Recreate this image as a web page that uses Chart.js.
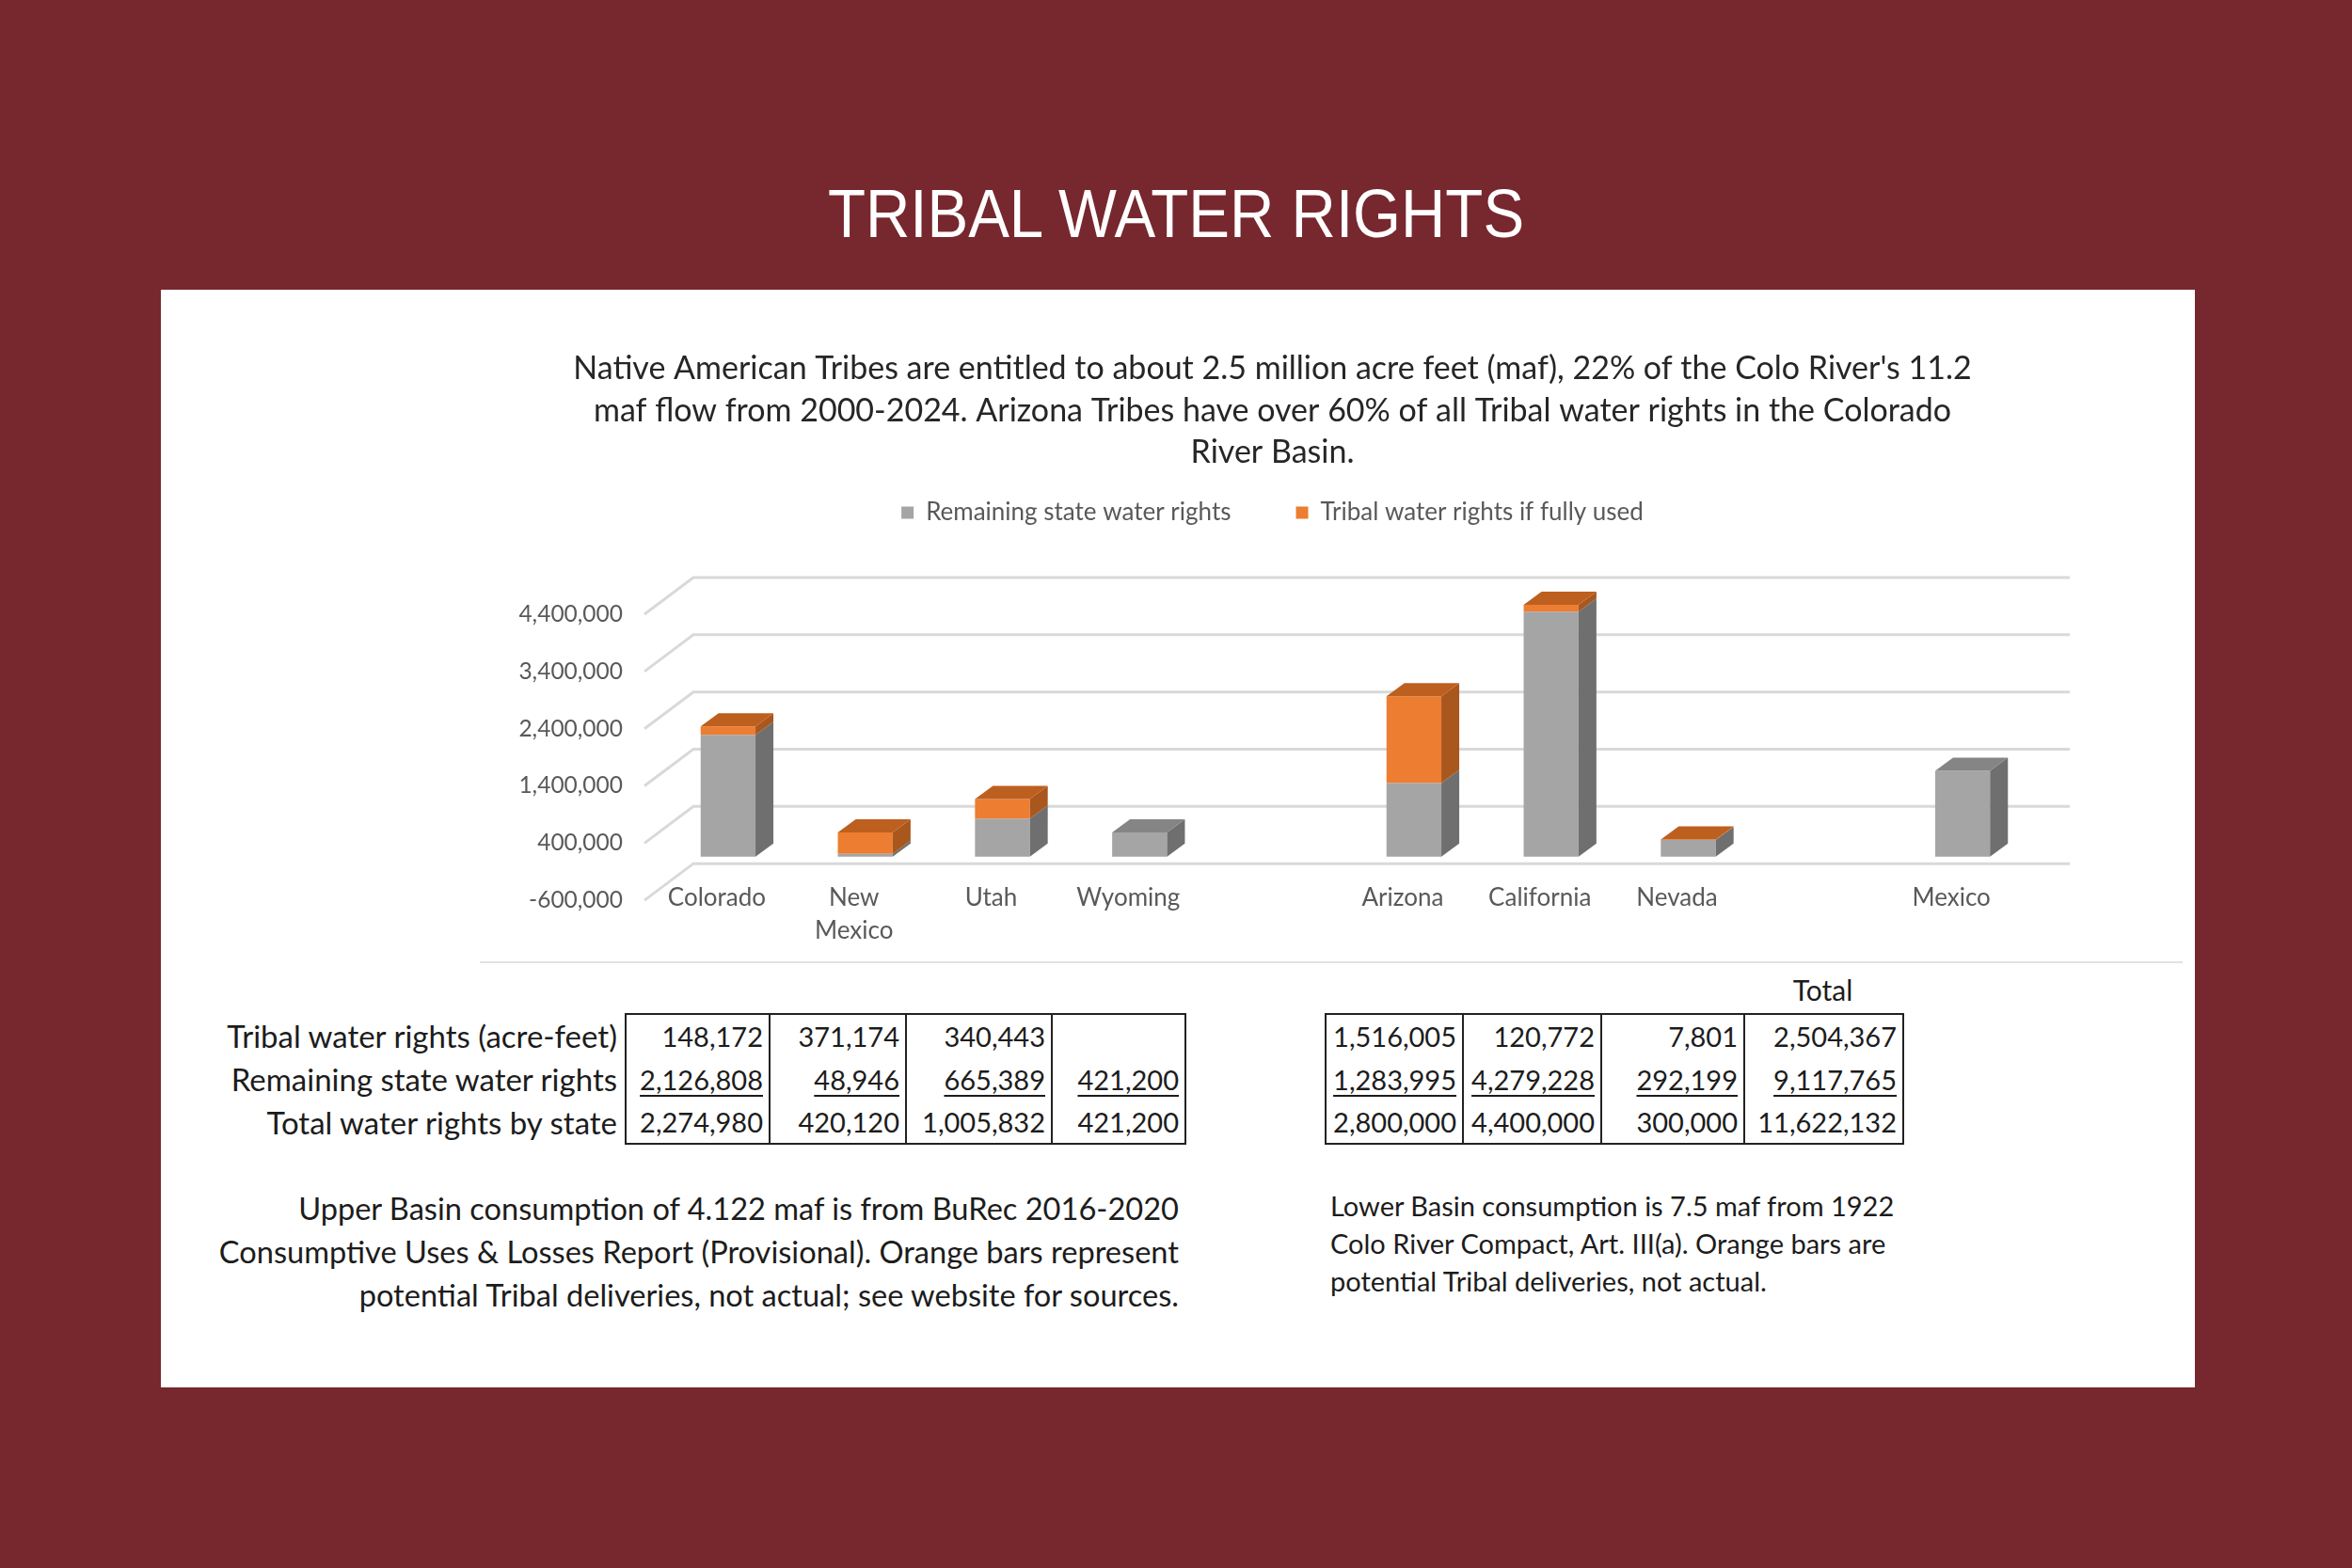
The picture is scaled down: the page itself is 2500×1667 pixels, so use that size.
<!DOCTYPE html>
<html>
<head>
<meta charset="utf-8">
<script src="https://cdn.jsdelivr.net/npm/chart.js@4"></script>
<style>
  body { margin: 0; width: 2500px; height: 1667px; background: #77272e; position: relative; overflow: hidden; font-family: Lato, "Open Sans", sans-serif; }
  #heading { position: absolute; left: 0; top: 191px; width: 2500px; text-align: center; color: #fff;
             font-family: "Liberation Sans", Arial, sans-serif; font-size: 72px; line-height: 72px; transform: scaleX(0.91); }
  #panel { position: absolute; left: 171px; top: 308px; width: 2162px; height: 1167px; background: #fff; }
  #chartBox { position: absolute; left: 546px; top: 360px; width: 1680px; height: 658px; }
  #sep { position: absolute; left: 510px; top: 1022px; width: 1810px; height: 2px; background: #e2e2e2; }
  table { position: absolute; border-collapse: collapse; font-size: 29px; color: #1c1c1c; }
  td { height: 46px; padding: 0 6px 0 0; text-align: right; white-space: nowrap; box-sizing: border-box; }
  td.num { border-left: 2px solid #222; border-right: 2px solid #222; }
  tr:first-child td.num { border-top: 2px solid #222; }
  tr:last-child td.num { border-bottom: 2px solid #222; }
  td.lab { padding-right: 8px; font-size: 33px; }
  tr.under td.num span { text-decoration: underline; text-decoration-thickness: 2px; text-underline-offset: 5px; }
  #totalHead { position: absolute; left: 1853px; width: 169px; top: 1034px; text-align: center; font-size: 30px; color: #1c1c1c; }
  #noteLeft { position: absolute; left: 150px; width: 1103px; top: 1262px; text-align: right; font-size: 32.6px; line-height: 46px; color: #1c1c1c; }
  #noteRight { position: absolute; left: 1414px; width: 800px; top: 1262px; font-size: 29px; line-height: 40px; color: #1c1c1c; }
</style>
</head>
<body>
<div id="heading">TRIBAL WATER RIGHTS</div>
<div id="panel"></div>
<div id="chartBox"><canvas id="myChart" width="1680" height="658"></canvas></div>
<div id="sep"></div>
<table id="upperTable"></table>
<div id="totalHead">Total</div>
<table id="lowerTable"></table>
<div id="noteLeft">Upper Basin consumption of 4.122 maf is from BuRec 2016-2020<br>Consumptive Uses &amp; Losses Report (Provisional). Orange bars represent<br>potential Tribal deliveries, not actual; see website for sources.</div>
<div id="noteRight">Lower Basin consumption is 7.5 maf from 1922<br>Colo River Compact, Art. III(a). Orange bars are<br>potential Tribal deliveries, not actual.</div>

<script>
// chart data (blank slots keep the basin groups apart)
const states = ['Colorado', ['New', 'Mexico'], 'Utah', 'Wyoming', '', 'Arizona', 'California', 'Nevada', '', 'Mexico']
const remainingRights = [2126808, 48946, 665389, 421200, null, 1283995, 4279228, 292199, null, 1500000]
const tribalRights = [148172, 371174, 340443, 0, null, 1516005, 120772, 7801, null, 0]
const yTicks = [-600000, 400000, 1400000, 2400000, 3400000, 4400000]
const yMin = -400000
const yMax = 4400000

// table data
const rowLabels = ['Tribal water rights (acre-feet)', 'Remaining state water rights', 'Total water rights by state']
const upperTribal = [148172, 371174, 340443, null]
const upperRemaining = [2126808, 48946, 665389, 421200]
const upperTotal = [2274980, 420120, 1005832, 421200]
const lowerTribal = [1516005, 120772, 7801, 2504367]
const lowerRemaining = [1283995, 4279228, 292199, 9117765]
const lowerTotal = [2800000, 4400000, 300000, 11622132]

const fmt = v => v == null ? '' : v.toLocaleString('en-US')

function buildTable(el, rows, widths, labels) {
    let html = ''
    rows.forEach((row, r) => {
        html += `<tr${r === 1 ? ' class="under"' : ''}>`
        if (labels) html += `<td class="lab" style="width:500px">${labels[r]}</td>`
        row.forEach((v, c) => {
            html += `<td class="num" style="width:${widths[c]}px"><span>${fmt(v)}</span></td>`
        })
        html += '</tr>'
    })
    el.innerHTML = html
}

const upperEl = document.getElementById('upperTable')
upperEl.style.left = '165px'
upperEl.style.top = '1077px'
buildTable(upperEl, [upperTribal, upperRemaining, upperTotal], [153, 145, 155, 142], rowLabels)

const lowerEl = document.getElementById('lowerTable')
lowerEl.style.left = '1408px'
lowerEl.style.top = '1077px'
buildTable(lowerEl, [lowerTribal, lowerRemaining, lowerTotal], [146, 147, 152, 169], null)

// 3D look: back wall grid, then side and top faces of every bar
const DX = 19, DY = 14

const wall3d = {
    id: 'wall3d',
    beforeInit(chart) {
        const fit = chart.legend.fit
        chart.legend.fit = function () {
            fit.call(this)
            this.height += 75
        }
    },
    beforeDatasetsDraw(chart) {
        const { ctx, chartArea: a, scales: { y } } = chart
        ctx.save()
        ctx.strokeStyle = '#d9d9d9'
        ctx.lineWidth = 3
        y.ticks.forEach(t => {
            const py = y.getPixelForValue(t.value)
            ctx.beginPath()
            ctx.moveTo(a.left - 16, py + 10)
            ctx.lineTo(a.left + 36, py - 29)
            ctx.lineTo(a.right + 41, py - 29)
            ctx.stroke()
        })
        ctx.restore()
    },
    afterDatasetsDraw(chart) {
        const ctx = chart.ctx
        const sets = chart.data.datasets
        const topSet = chart.data.labels.map((_, i) => {
            let k = -1
            sets.forEach((d, j) => { if (d.data[i] > 0) k = j })
            return k
        })
        const poly = pts => {
            ctx.beginPath()
            pts.forEach((p, n) => n ? ctx.lineTo(p[0], p[1]) : ctx.moveTo(p[0], p[1]))
            ctx.closePath()
            ctx.fill()
        }
        ctx.save()
        sets.forEach((ds, j) => {
            chart.getDatasetMeta(j).data.forEach((bar, i) => {
                if (!(ds.data[i] > 0)) return
                const { x, y, base, width } = bar.getProps(['x', 'y', 'base', 'width'], true)
                const l = x - width / 2, r = x + width / 2
                ctx.fillStyle = ds.sideColor
                poly([[r, y], [r + DX, y - DY], [r + DX, base - DY], [r, base]])
                if (topSet[i] === j) {
                    ctx.fillStyle = ds.topColor
                    poly([[l, y], [l + DX, y - DY], [r + DX, y - DY], [r, y]])
                }
            })
        })
        ctx.restore()
    }
}

const ctx = document.getElementById('myChart')

const myChart = new Chart(ctx, {
    type: 'bar',
    data: {
        labels: states,
        datasets: [{
            label: 'Remaining state water rights',
            data: remainingRights,
            backgroundColor: '#a5a5a5',
            sideColor: '#6f6f6f',
            topColor: '#858585',
            borderWidth: 0
        }, {
            label: 'Tribal water rights if fully used',
            data: tribalRights,
            backgroundColor: '#ed7d31',
            sideColor: '#a9571d',
            topColor: '#bd5f1f',
            borderWidth: 0
        }]
    },
    options: {
        responsive: false,
        animation: false,
        events: [],
        layout: { padding: { left: 0, right: 67, top: 0, bottom: 0 } },
        datasets: { bar: { barPercentage: 0.4, categoryPercentage: 1 } },
        plugins: {
            title: {
                display: true,
                text: [
                    "Native American Tribes are entitled to about 2.5 million acre feet (maf), 22% of the Colo River's 11.2",
                    'maf flow from 2000-2024. Arizona Tribes have over 60% of all Tribal water rights in the Colorado',
                    'River Basin.'
                ],
                color: '#262626',
                font: { family: 'Lato', size: 34, weight: 'normal', lineHeight: 1.309 },
                padding: { top: 10, bottom: -40.5 }
            },
            legend: {
                labels: {
                    boxWidth: 13,
                    boxHeight: 13,
                    padding: 69,
                    color: '#595959',
                    font: { family: 'Lato', size: 26 }
                }
            },
            tooltip: { enabled: false }
        },
        scales: {
            x: {
                stacked: true,
                grid: { display: false },
                border: { display: false },
                ticks: {
                    autoSkip: false,
                    maxRotation: 0,
                    padding: -6,
                    labelOffset: -12,
                    color: '#595959',
                    font: { family: 'Lato', size: 26, lineHeight: 1.35 }
                },
                afterFit(scale) { scale.height = 83 }
            },
            y: {
                stacked: true,
                min: yMin,
                max: yMax,
                grid: { display: false, drawTicks: false },
                border: { display: false },
                afterBuildTicks(scale) { scale.ticks = yTicks.map(v => ({ value: v })) },
                ticks: {
                    padding: 39,
                    labelOffset: 10,
                    color: '#595959',
                    font: { family: 'Lato', size: 24.5 },
                    callback: v => v.toLocaleString('en-US')
                },
                afterFit(scale) { scale.width = 155 }
            }
        }
    },
    plugins: [wall3d]
})
</script>
</body>
</html>
